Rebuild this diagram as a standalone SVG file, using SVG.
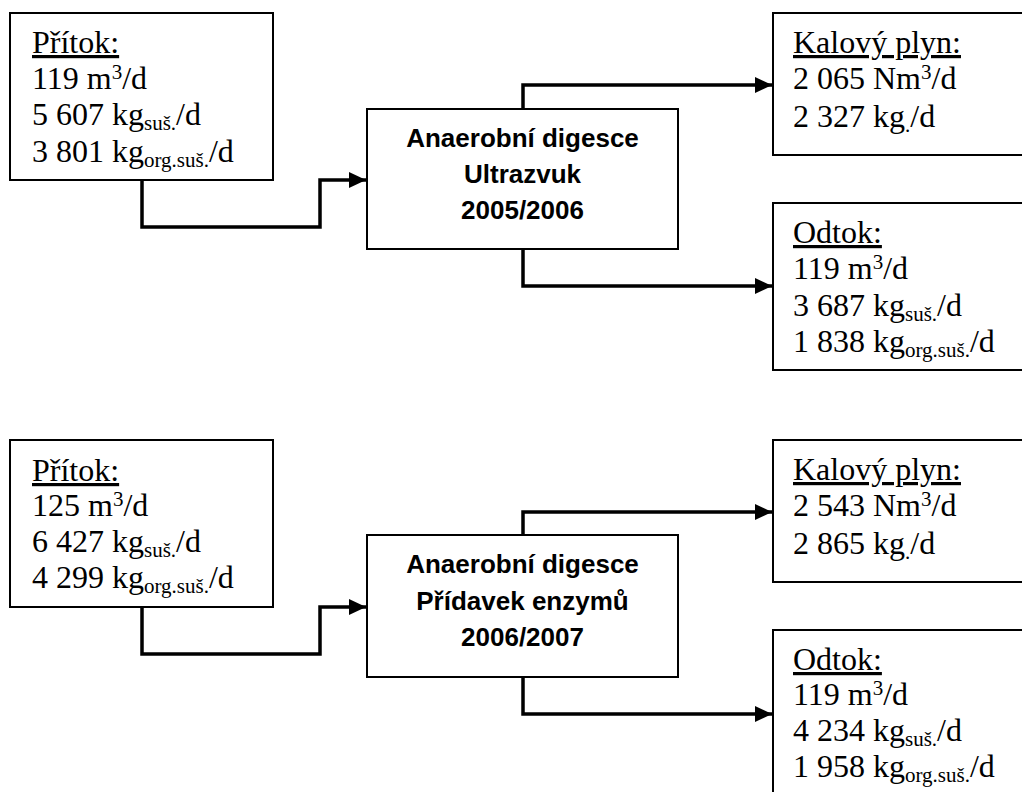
<svg xmlns="http://www.w3.org/2000/svg" width="1022" height="792" viewBox="0 0 1022 792">
<style>
.box{fill:#fff;stroke:#000;stroke-width:2}
.t{font-family:"Liberation Serif","Times New Roman",serif;font-size:32px;fill:#000}
.s{font-size:21px}
.u{text-decoration:underline}
.c{font-family:"Liberation Sans",Arial,sans-serif;font-weight:bold;font-size:26px;fill:#000;text-anchor:middle}
.con{fill:none;stroke:#000;stroke-width:3.5;stroke-linejoin:miter}
</style>
<defs>
<marker id="ah" markerUnits="userSpaceOnUse" markerWidth="18" markerHeight="16" refX="17" refY="8" orient="auto">
<path d="M0,0 L17,8 L0,16 Z" fill="#000"/>
</marker>
</defs>
<rect width="1022" height="792" fill="#fff"/>
<g id="connectors">
<path class="con" d="M142,180 V227 H320 V180 H366" marker-end="url(#ah)"/>
<path class="con" d="M523,109 V85 H772" marker-end="url(#ah)"/>
<path class="con" d="M523,249 V286 H772" marker-end="url(#ah)"/>
<path class="con" d="M142,607 V654 H320 V607 H366" marker-end="url(#ah)"/>
<path class="con" d="M523,535 V512 H772" marker-end="url(#ah)"/>
<path class="con" d="M523,677 V714 H772" marker-end="url(#ah)"/>
</g>
<g id="pritok1">
<rect class="box" x="10" y="13" width="263" height="167"/>
<text class="t" x="32" y="53"><tspan class="u">Přítok:</tspan></text>
<text class="t" x="32" y="89">119 m<tspan class="s" dy="-10">3</tspan><tspan dy="10">/d</tspan></text>
<text class="t" x="32" y="125">5 607 kg<tspan class="s" dy="5">suš.</tspan><tspan dy="-5">/d</tspan></text>
<text class="t" x="32" y="162">3 801 kg<tspan class="s" dy="5">org.suš.</tspan><tspan dy="-5">/d</tspan></text>
</g>
<g id="digesce1">
<rect class="box" x="367" y="109" width="311" height="140"/>
<text class="c" x="522.5" y="147">Anaerobní digesce</text>
<text class="c" x="522.5" y="183">Ultrazvuk</text>
<text class="c" x="522.5" y="219">2005/2006</text>
</g>
<g id="plyn1">
<rect class="box" x="773" y="13" width="270" height="142"/>
<text class="t" x="793" y="53"><tspan class="u">Kalový plyn:</tspan></text>
<text class="t" x="793" y="89">2 065 Nm<tspan class="s" dy="-10">3</tspan><tspan dy="10">/d</tspan></text>
<text class="t" x="793" y="127">2 327 kg<tspan class="s" dy="5">.</tspan><tspan dy="-5">/d</tspan></text>
</g>
<g id="odtok1">
<rect class="box" x="773" y="203" width="270" height="167"/>
<text class="t" x="793" y="243"><tspan class="u">Odtok:</tspan></text>
<text class="t" x="793" y="279">119 m<tspan class="s" dy="-10">3</tspan><tspan dy="10">/d</tspan></text>
<text class="t" x="793" y="316">3 687 kg<tspan class="s" dy="5">suš.</tspan><tspan dy="-5">/d</tspan></text>
<text class="t" x="793" y="352">1 838 kg<tspan class="s" dy="5">org.suš.</tspan><tspan dy="-5">/d</tspan></text>
</g>
<g id="pritok2">
<rect class="box" x="10" y="440" width="263" height="167"/>
<text class="t" x="32" y="481"><tspan class="u">Přítok:</tspan></text>
<text class="t" x="32" y="516">125 m<tspan class="s" dy="-10">3</tspan><tspan dy="10">/d</tspan></text>
<text class="t" x="32" y="552">6 427 kg<tspan class="s" dy="5">suš.</tspan><tspan dy="-5">/d</tspan></text>
<text class="t" x="32" y="588">4 299 kg<tspan class="s" dy="5">org.suš.</tspan><tspan dy="-5">/d</tspan></text>
</g>
<g id="digesce2">
<rect class="box" x="367" y="535" width="311" height="142"/>
<text class="c" x="522.5" y="573">Anaerobní digesce</text>
<text class="c" x="522.5" y="610">Přídavek enzymů</text>
<text class="c" x="522.5" y="646">2006/2007</text>
</g>
<g id="plyn2">
<rect class="box" x="773" y="440" width="270" height="142"/>
<text class="t" x="793" y="480"><tspan class="u">Kalový plyn:</tspan></text>
<text class="t" x="793" y="516">2 543 Nm<tspan class="s" dy="-10">3</tspan><tspan dy="10">/d</tspan></text>
<text class="t" x="793" y="554">2 865 kg<tspan class="s" dy="5">.</tspan><tspan dy="-5">/d</tspan></text>
</g>
<g id="odtok2">
<rect class="box" x="773" y="630" width="270" height="180"/>
<text class="t" x="793" y="670"><tspan class="u">Odtok:</tspan></text>
<text class="t" x="793" y="705">119 m<tspan class="s" dy="-10">3</tspan><tspan dy="10">/d</tspan></text>
<text class="t" x="793" y="741">4 234 kg<tspan class="s" dy="5">suš.</tspan><tspan dy="-5">/d</tspan></text>
<text class="t" x="793" y="777">1 958 kg<tspan class="s" dy="5">org.suš.</tspan><tspan dy="-5">/d</tspan></text>
</g>
</svg>
